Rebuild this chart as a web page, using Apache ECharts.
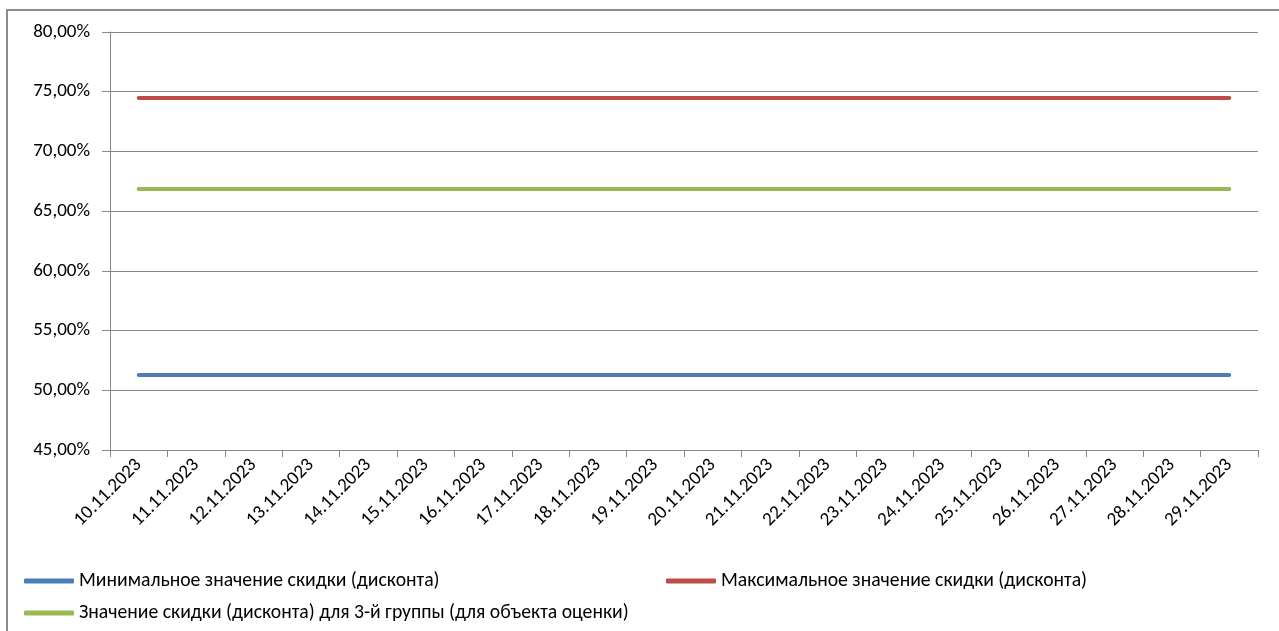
<!DOCTYPE html>
<html><head><meta charset="utf-8">
<script src="https://cdn.jsdelivr.net/npm/echarts@6/dist/echarts.min.js"></script>
<style>html,body{margin:0;padding:0;background:#fff}#c{width:1279px;height:631px}</style>
</head><body><div id="c"></div>
<script>
const categories = ['10.11.2023','11.11.2023','12.11.2023','13.11.2023','14.11.2023','15.11.2023','16.11.2023','17.11.2023','18.11.2023','19.11.2023','20.11.2023','21.11.2023','22.11.2023','23.11.2023','24.11.2023','25.11.2023','26.11.2023','27.11.2023','28.11.2023','29.11.2023'];
const minValues = [51.27,51.27,51.27,51.27,51.27,51.27,51.27,51.27,51.27,51.27,51.27,51.27,51.27,51.27,51.27,51.27,51.27,51.27,51.27,51.27];
const maxValues = [74.47,74.47,74.47,74.47,74.47,74.47,74.47,74.47,74.47,74.47,74.47,74.47,74.47,74.47,74.47,74.47,74.47,74.47,74.47,74.47];
const groupValues = [66.85,66.85,66.85,66.85,66.85,66.85,66.85,66.85,66.85,66.85,66.85,66.85,66.85,66.85,66.85,66.85,66.85,66.85,66.85,66.85];
const seriesNames = ['Минимальное значение скидки (дисконта)','Максимальное значение скидки (дисконта)','Значение скидки (дисконта) для 3-й группы (для объекта оценки)'];
const colors = ['#4a7ebb','#be4b48','#98b954'];

const FONT = 'Carlito, "DejaVu Sans Condensed", "Noto Sans", sans-serif';
const chart = echarts.init(document.getElementById('c'));
const legendBase = {orient:'horizontal', icon:'roundRect', itemWidth:50, itemHeight:5, itemGap:0, padding:0,
  textStyle:{fontFamily:FONT, fontSize:19.7, color:'#000', padding:[0,0,0,0]}, selectedMode:false};
chart.setOption({
  animation:false,
  graphic:[{type:'rect', shape:{x:7,y:10,width:1300,height:640}, style:{fill:'none', stroke:'#8c8c8c', lineWidth:2}, silent:true}],
  grid:{left:110, right:21, top:32, bottom:181, containLabel:false},
  legend:[
    Object.assign({}, legendBase, {left:24, top:571, data:[seriesNames[0]]}),
    Object.assign({}, legendBase, {left:666, top:571, data:[seriesNames[1]]}),
    Object.assign({}, legendBase, {left:24, top:603, data:[seriesNames[2]]})
  ],
  xAxis:{type:'category', data:categories, boundaryGap:true,
    axisLine:{lineStyle:{color:'#878787', width:1}},
    axisTick:{show:true, alignWithLabel:false, length:7, lineStyle:{color:'#878787'}},
    axisLabel:{rotate:45, interval:0, margin:12, fontFamily:FONT, fontSize:19, color:'#000'},
    splitLine:{show:false}},
  yAxis:{type:'value', min:45, max:80, interval:5,
    axisLine:{show:true, lineStyle:{color:'#878787', width:1}},
    axisTick:{show:true, inside:false, length:8, lineStyle:{color:'#878787'}},
    axisLabel:{margin:20, fontFamily:FONT, fontSize:19, color:'#000',
      formatter:v=>v.toFixed(2).replace('.',',')+'%'},
    splitLine:{lineStyle:{color:'#878787', width:1}}},
  series:[
    {name:seriesNames[0], type:'line', data:minValues, color:colors[0], symbol:'none', lineStyle:{width:4, cap:'round'}},
    {name:seriesNames[1], type:'line', data:maxValues, color:colors[1], symbol:'none', lineStyle:{width:4, cap:'round'}},
    {name:seriesNames[2], type:'line', data:groupValues, color:colors[2], symbol:'none', lineStyle:{width:4, cap:'round'}}
  ]
});
</script></body></html>
